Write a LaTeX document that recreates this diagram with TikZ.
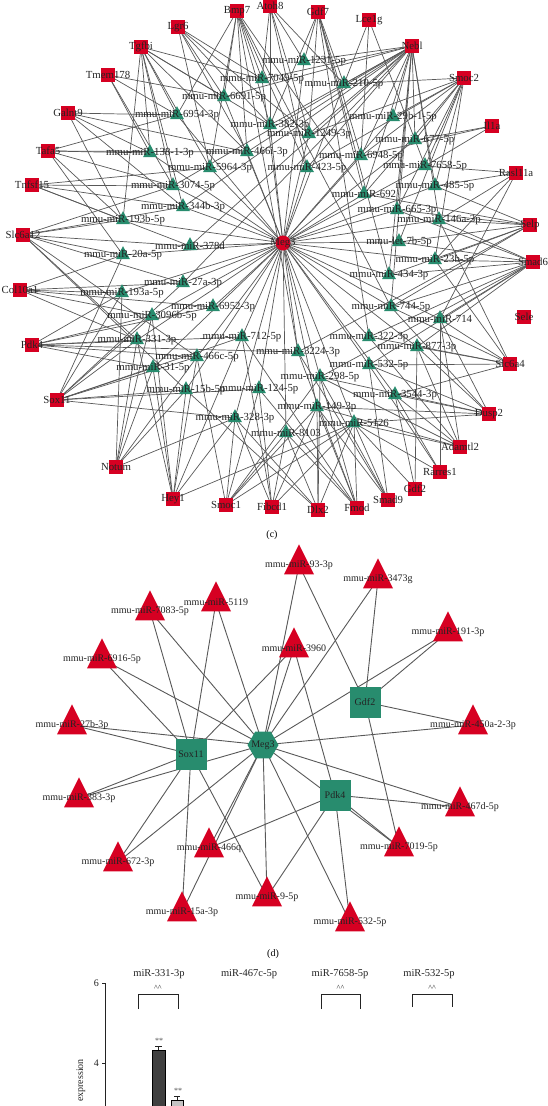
\documentclass[tikz,border=0pt]{standalone}
\usepackage{fontspec}
\setmainfont{Liberation Serif}
\usetikzlibrary{shapes.geometric,backgrounds}
\definecolor{cred}{RGB}{214,0,34}
\definecolor{cgreen}{RGB}{40,140,110}
\definecolor{cedge}{RGB}{88,88,88}
\definecolor{ctext}{RGB}{35,35,35}
\definecolor{cbar}{RGB}{64,64,64}
\definecolor{cbarlight}{RGB}{195,195,195}

\begin{document}
\begin{tikzpicture}[x=1pt, y=-1pt, font=\fontsize{10}{12}\selectfont]
    \tikzstyle{gene} = [rectangle, fill=cred, minimum size=14pt, inner sep=0pt]
    \tikzstyle{mir} = [isosceles triangle, isosceles triangle stretches, shape border rotate=90, fill=cgreen, minimum width=14pt, minimum height=13pt, inner sep=0pt]
    \tikzstyle{lnc} = [circle, fill=cred, minimum size=15pt, inner sep=0pt]
    \tikzstyle{dgene} = [rectangle, fill=cgreen, minimum size=31pt, inner sep=0pt]
    \tikzstyle{dmir} = [isosceles triangle, isosceles triangle stretches, shape border rotate=90, fill=cred, minimum width=30pt, minimum height=30pt, inner sep=0pt]
    \tikzstyle{dlnc} = [regular polygon, regular polygon sides=6, fill=cgreen, minimum size=31pt, inner sep=0pt]
    \tikzstyle{lab} = [text=ctext, inner sep=0pt]
    \tikzstyle{clab} = [lab, font=\fontsize{10.8}{12}\selectfont]
    \tikzstyle{link} = [draw=cedge, line width=0.7pt]
    \tikzstyle{dlink} = [draw=cedge, line width=0.9pt]
    \tikzstyle{axis} = [draw=ctext, line width=0.6pt]

    \useasboundingbox (0,0) rectangle (547,1106);

    % panel (c): genes
    \foreach \t/\x/\y in {Bmp7/237/11, Atoh8/270/6, Gdf7/318/12, Lce1g/369/20, Nebl/412/46,
        Smoc2/464/78, Il1a/492/126, Rasl11a/516/173, Selp/530/225, Smad6/533/262,
        Sele/524/317, Slc6a4/510/364, Dusp2/489/414, Adamtl2/460/447, Rarres1/440/472,
        Gdf2/415/489, Smad9/388/500, Fmod/357/508, Dlx2/318/510, Fibcd1/272/507,
        Smoc1/226/505, Hey1/173/499, Notum/116/467, Sox11/57/400, Pdk4/32/345,
        Col10a1/20/290, Slc6a12/23/235, Tnfsf15/32/185, Tafa5/48/151, Galnt9/68/113,
        Tmem178/108/75, Tgfbi/141/47, Lgr6/178/27}
        \node[gene, label={[clab]center:\t}] (\t) at (\x,\y) {};

    % panel (c): miRNAs
    \foreach \n/\x/\y/\t in {m1231/304/61/mmu-miR-1231-5p, m7049/262/79/mmu-miR-7049-5p,
        m210/344/84/mmu-miR-210-5p, m6691/224/97/mmu-miR-6691-5p, m6954/177/115/mmu-miR-6954-3p,
        m382/270/125/mmu-miR-382-3p, m1249/309/134/mmu-miR-1249-3p, m29b/393/117/mmu-miR-29b-1-5p,
        m677/415/140/mmu-miR-677-5p, m138/150/153/mmu-miR-138-1-3p, m466i/247/152/mmu-miR-466i-3p,
        m6948/361/156/mmu-miR-6948-5p, m5964/210/168/mmu-miR-5964-3p, m423/307/168/mmu-miR-423-5p,
        m7658/425/166/mmu-miR-7658-5p, m3074/173/186/mmu-miR-3074-5p, m692/364/194/mmu-miR-692,
        m485/435/186/mmu-miR-485-5p, m344b/183/207/mmu-miR-344b-3p, m665/397/210/mmu-miR-665-3p,
        m146a/439/220/mmu-miR-146a-3p, m193b/123/220/mmu-miR-193b-5p, mlet7b/399/242/mmu-let-7b-5p,
        m378d/190/246/mmu-miR-378d, m20a/123/255/mmu-miR-20a-5p, m23b/435/260/mmu-miR-23b-5p,
        m434/389/275/mmu-miR-434-3p, m27a/183/283/mmu-miR-27a-3p, m193a/122/293/mmu-miR-193a-5p,
        m6952/213/307/mmu-miR-6952-3p, m744/391/307/mmu-miR-744-5p, m714/440/319/mmu-miR-714,
        m3096b/152/316/mmu-miR-3096b-5p, m331/137/340/mmu-miR-331-3p, m712/242/337/mmu-miR-712-5p,
        m322/369/337/mmu-miR-322-3p, m877/417/347/mmu-miR-877-3p, m466c/197/357/mmu-miR-466c-5p,
        m3224/298/352/mmu-miR-3224-3p, m532/369/365/mmu-miR-532-5p, m31/153/368/mmu-miR-31-5p,
        m298/320/377/mmu-miR-298-5p, m15b/186/390/mmu-miR-15b-5p, m124/259/389/mmu-miR-124-5p,
        m3544/395/395/mmu-miR-3544-3p, m149/317/407/mmu-miR-149-3p, m328/235/418/mmu-miR-328-3p,
        m5126/354/423/mmu-miR-5126, m8103/286/433/mmu-miR-8103}
        \node[mir, label={[clab]center:\t}] (\n) at (\x,\y) {};

    \node[lnc, label={[clab]center:Meg3}] (meg) at (283,243) {};
    \node (pc) at (272,535) {(c)};

    \begin{scope}[on background layer]
        \foreach \m in {m1231,m7049,m210,m6691,m6954,m382,m1249,m29b,m677,m138,m466i,m6948,
            m5964,m423,m7658,m3074,m692,m485,m344b,m665,m146a,m193b,mlet7b,m378d,m20a,m23b,
            m434,m27a,m193a,m6952,m744,m714,m3096b,m331,m712,m322,m877,m466c,m3224,m532,m31,
            m298,m15b,m124,m3544,m149,m328,m5126,m8103}
            \draw[link] (meg.center) -- (\m.center);
        \foreach \g/\ms in {
            Bmp7/{m7049,m6691,m382,m466i,m5964,m423,m692,m744,m3224,m6954},
            Atoh8/{m1231,m7049,m382,m1249,m210,m423},
            Gdf7/{m1231,m210,m1249,m382,m6948,m692,m434,m322},
            Lce1g/{m210,m7658,m6948},
            Nebl/{m1231,m210,m7049,m6691,m382,m1249,m466i,m6948,m423,m3074,m344b,m378d,m27a,m29b,m677,m692,m665,m434,m744,m485,m146a},
            Smoc2/{m210,m29b,m677,m7658,m6948,m423,m665,m485,m692,m1249,m23b,mlet7b},
            Il1a/{m677,m6948,m7658},
            Rasl11a/{m7658,m485,m146a,m714,m23b},
            Selp/{m146a,m665,m692,mlet7b,m485,m744,m23b,m434,m3224},
            Smad6/{m23b,mlet7b,m434,m744,m714,m146a,m322,m532,m877,m665,m298},
            Slc6a4/{m877,m322,m532,m744,m714,m3544,m146a,m23b},
            Dusp2/{m3544,m5126,m149,m877,m298,m532,m744,m714},
            Adamtl2/{m5126,m3544,m149,m298,m877,m322,m714},
            Rarres1/{m5126,m3544,m532,m714},
            Gdf2/{m5126,m3544,m877},
            Smad9/{m5126,m532,m298,m149,m3224},
            Fmod/{m5126,m149,m8103,m124,m298,m3224,m712},
            Dlx2/{m5126,m149,m8103,m328,m298,m15b},
            Fibcd1/{m8103,m5126,m328,m124,m149,m712},
            Smoc1/{m328,m8103,m5126,m124,m149,m466c,m298},
            Hey1/{m331,m31,m328,m5126,m15b,m712,m466c,m3096b},
            Notum/{m331,m31,m466c,m15b,m328,m3096b,m193a},
            Sox11/{m331,m31,m466c,m15b,m328,m3096b,m193a,m27a,m712,m124,m20a},
            Pdk4/{m331,m466c,m712,m3096b,m31,m193a,m6952,m3224},
            Col10a1/{m193a,m27a,m3096b,m331,m20a,m6952},
            Slc6a12/{m193b,m378d,m20a,m27a,m466c,m15b,m331,m3074,m344b},
            Tnfsf15/{m3074,m344b,m378d,m5964,m193b},
            Tafa5/{m138,m6954,m466i,m193b,m20a,m3074},
            Galnt9/{m6954,m138,m344b,m193b,m466i},
            Tmem178/{m6954,m138,m6691,m3074},
            Tgfbi/{m7049,m6691,m6954,m5964,m138,m3074,m344b,m382,m466i,m193b},
            Lgr6/{m6691,m7049,m5964,m466i,m382,m1249}}
            \foreach \m in \ms
                \draw[link] (\g.center) -- (\m.center);
    \end{scope}

    % panel (d)
    \node[dlnc, label={[lab]center:Meg3}] (dmeg) at (263,745) {};
    \node[dgene, label={[lab]center:Sox11}] (dsox) at (191,754) {};
    \node[dgene, label={[lab]center:Gdf2}] (dgdf) at (365,702) {};
    \node[dgene, label={[lab]center:Pdk4}] (dpdk) at (335,795) {};

    \foreach \n/\x/\y/\t in {d93/299/565/mmu-miR-93-3p, d3473/378/579/mmu-miR-3473g,
        d5119/216/602/mmu-miR-5119, d7083/150/611/mmu-miR-7083-5p, d191/448/632/mmu-miR-191-3p,
        d3960/294/648/mmu-miR-3960, d6916/102/659/mmu-miR-6916-5p, d27b/72/725/mmu-miR-27b-3p,
        d450/473/725/mmu-miR-450a-2-3p, d383/79/798/mmu-miR-383-3p, d467/460/807/mmu-miR-467d-5p,
        d466/209/848/mmu-miR-466q, d7019/399/847/mmu-miR-7019-5p, d672/118/862/mmu-miR-672-3p,
        d95/267/897/mmu-miR-9-5p, d15a/182/912/mmu-miR-15a-3p, d532/350/922/mmu-miR-532-5p}
        \node[dmir, label={[lab]center:\t}] (\n) at (\x,\y) {};

    \node (pd) at (273,954) {(d)};

    \begin{scope}[on background layer]
        \foreach \g/\ms in {
            dmeg/{d93,d3473,d191,d3960,d5119,d7083,d6916,d27b,d383,d450,d467,d7019,d532,d95,d15a,d466,d672},
            dsox/{d27b,d383,d6916,d7083,d5119,d3960,d672,d15a,d95},
            dgdf/{d93,d3473,d191,d450,d7019},
            dpdk/{d3960,d466,d467,d7019,d532,d95}}
            \foreach \m in \ms
                \draw[dlink] (\g.center) -- (\m.center);
    \end{scope}

    % bar chart, cut by the page edge
    \draw[axis] (105,983) -- (105,1112);
    \draw[axis] (102,983) -- (105,983);
    \draw[axis] (102,1063) -- (105,1063);
    \node[lab, anchor=east] (t6) at (99,983) {6};
    \node[lab, anchor=east] (t4) at (99,1063) {4};
    \node[lab, rotate=90, anchor=east] (ylab) at (81,1059) {expression};

    \foreach \x/\t in {159/miR-331-3p, 249/miR-467c-5p, 340/miR-7658-5p, 429/miR-532-5p}
        \node[lab, font=\fontsize{10.5}{12}\selectfont] at (\x,974) {\t};
    \foreach \a/\b/\h in {138/178/1009, 321/360/1009, 412/452/1007} {
        \draw[axis] (\a,\h) -- (\a,994) -- (\b,994) -- (\b,\h);
        \node[lab, font=\fontsize{8}{9}\selectfont] at ({(\a+\b)/2},988) {\textasciicircum\textasciicircum};
    }

    \filldraw[fill=cbar, draw=black, line width=0.5pt] (152,1112) rectangle (165,1050);
    \draw[axis] (158.5,1050) -- (158.5,1046) (155,1046) -- (162,1046);
    \node[lab, text=ctext!80, font=\fontsize{8}{9}\selectfont] (sa) at (159,1041) {**};
    \filldraw[fill=cbarlight, draw=black, line width=0.5pt] (171,1112) rectangle (183,1100);
    \draw[axis] (177,1100) -- (177,1096) (174,1096) -- (180,1096);
    \node[lab, text=ctext!80, font=\fontsize{8}{9}\selectfont] (sb) at (178,1091) {**};
\end{tikzpicture}
\end{document}
